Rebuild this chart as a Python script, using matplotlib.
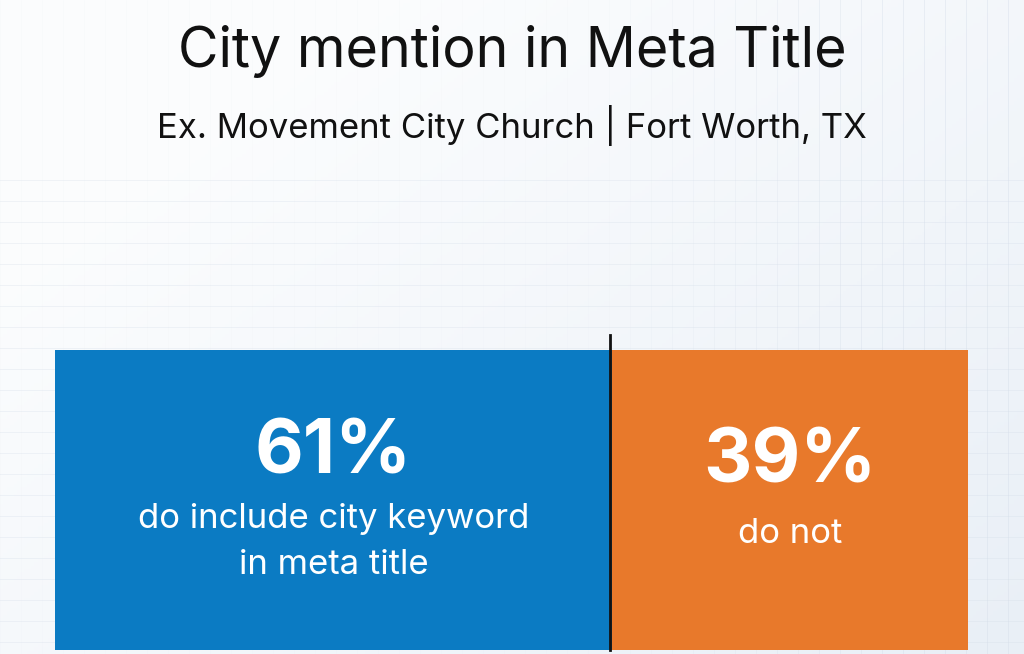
import numpy as np
import matplotlib.pyplot as plt

title = "City mention in Meta Title"
subtitle = "Ex. Movement City Church | Fort Worth, TX"
shares = [61, 39]
big_labels = ["61%", "39%"]
small_labels = ["do include city keyword\nin meta title", "do not"]
colors = ["#0b7bc3", "#e8792b"]

plt.rcParams['font.family'] = ['Inter', 'DejaVu Sans']

fig = plt.figure(figsize=(10.24, 6.54), dpi=100)

# background: soft gradient plus faint grid
bg = fig.add_axes([0, 0, 1, 1])
yy, xx = np.mgrid[0:1:200j, 0:1:300j]
t = np.clip(0.65 * xx + 0.55 * yy - 0.25, 0, 1)
c0 = np.array([0.985, 0.99, 0.995])
c1 = np.array([0.91, 0.935, 0.965])
img = c0 + (c1 - c0) * t[..., None]
bg.imshow(img, extent=[0, 1024, 654, 0], aspect='auto')
for gx in np.arange(0, 1024, 21):
    a = 0.35 * min(1, max(0, (gx - 600) / 300)) + 0.05
    bg.axvline(gx, color='#d3dce8', lw=0.7, alpha=a)
for gy in np.arange(180, 654, 21):
    bg.axhline(gy, color='#d3dce8', lw=0.7, alpha=0.3)
bg.set_xlim(0, 1024)
bg.set_ylim(654, 0)
bg.axis('off')

fig.text(0.5, 1 - 52 / 654, title, ha='center', va='center', fontsize=40, color='#111111')
fig.text(0.5, 1 - 125 / 654, subtitle, ha='center', va='center', fontsize=25, color='#111111')

# the stacked bar
ax = fig.add_axes([55 / 1024, 4 / 654, 913 / 1024, 300 / 654])
left = 0
for share, col, big, small in zip(shares, colors, big_labels, small_labels):
    ax.barh(0, share, left=left, height=1, color=col, edgecolor='none')
    cx = left + share / 2
    shift = 0.03 if small.count('\n') == 0 else 0.0
    ax.text(cx, 0.153 - shift, big, ha='center', va='center', fontsize=54,
            fontweight='bold', color='white')
    ax.text(cx, -0.01 - 1.7 * shift, small, ha='center', va='top', fontsize=25,
            color='white', linespacing=1.55)
    left += share
ax.set_xlim(0, 100)
ax.set_ylim(-0.5, 0.5)
ax.axis('off')

# divider line between the two shares
ax.plot([shares[0] - 0.2, shares[0] - 0.2], [-0.5, 0.55], color='#111111', lw=2,
        clip_on=False)

fig.savefig('out.png', dpi=100)
